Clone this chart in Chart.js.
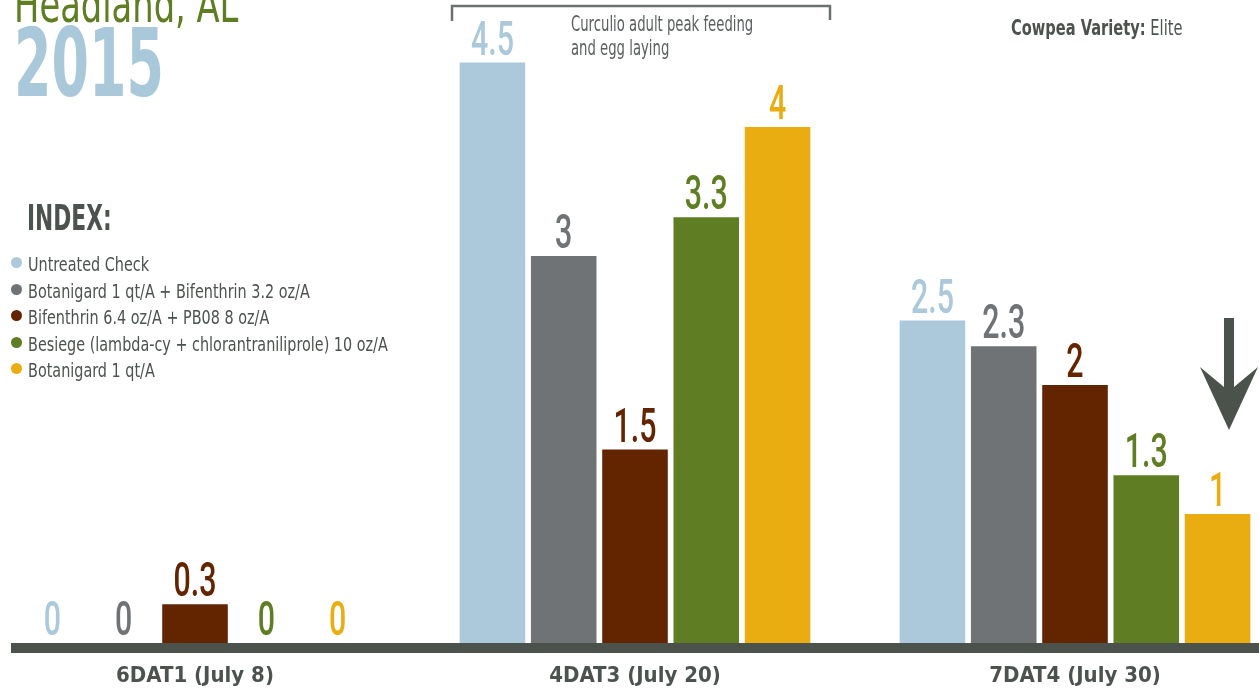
<!DOCTYPE html>
<html lang="en">
  <head>
    <meta charset="UTF-8" />
    <title>Headland, AL 2015</title>
    <script src="https://cdn.jsdelivr.net/npm/chart.js@4.4.1/dist/chart.umd.min.js"></script>
    <style>
      body {
        margin: 0;
        width: 1259px;
        height: 698px;
        overflow: hidden;
        background: #fff;
        position: relative;
        font-family: "Liberation Sans Narrow", "DejaVu Sans Condensed", sans-serif;
        color: #4c524d;
      }
      .chart-wrap {
        position: absolute;
        left: -25px;
        top: 0;
        width: 1320px;
        height: 698px;
      }
      .abs {
        position: absolute;
        white-space: nowrap;
        transform-origin: left top;
      }
      .place {
        left: 14px;
        top: -20px;
        font-size: 50px;
        line-height: 50px;
        color: #5f7d23;
        transform: scaleX(0.75);
      }
      .year {
        left: 14px;
        top: 16px;
        font-size: 95px;
        line-height: 95px;
        font-weight: bold;
        color: #a9c8d9;
        transform: scaleX(0.63);
      }
      .index-title {
        left: 27px;
        top: 198px;
        font-size: 35px;
        line-height: 40px;
        font-weight: bold;
        transform: scaleX(0.69);
      }
      .legend {
        left: 11px;
        top: 251px;
        font-size: 20px;
        line-height: 26.5px;
        list-style: none;
        margin: 0;
        padding: 0;
      }
      .legend li span.dot {
        display: inline-block;
        width: 11px;
        height: 11px;
        border-radius: 50%;
        margin-right: 6px;
        vertical-align: 3px;
      }
      .legend li span.txt {
        display: inline-block;
        transform: scaleX(0.8);
        transform-origin: left center;
      }
      .note {
        left: 571px;
        top: 12px;
        font-size: 21px;
        line-height: 24px;
        color: #5a5e5e;
        transform: scaleX(0.7);
      }
      .variety {
        left: 1011px;
        top: 16px;
        font-size: 22px;
        line-height: 24px;
        transform: scaleX(0.74);
      }
    </style>
  </head>
  <body>
    <div class="chart-wrap">
      <canvas id="chart-display"></canvas>
    </div>

    <div class="abs place">Headland, AL</div>
    <div class="abs year">2015</div>
    <div class="abs index-title">INDEX:</div>
    <ul class="abs legend" id="legend"></ul>
    <div class="abs note">Curculio adult peak feeding<br />and egg laying</div>
    <div class="abs variety"><b>Cowpea Variety:</b> Elite</div>

    <svg class="abs" style="left:0;top:0" width="1259" height="698">
      <polyline points="452,21 452,6 830,6 830,20" fill="none" stroke="#6d7070" stroke-width="2.5" />
      <polygon points="1224,318 1234,318 1234,387 1258,367 1229,430 1200,367 1224,387" fill="#4b524b" />
    </svg>

    <script>
      let categories = ['6DAT1 (July 8)', '4DAT3 (July 20)', '7DAT4 (July 30)'];
      let seriesNames = [
        'Untreated Check',
        'Botanigard 1 qt/A + Bifenthrin 3.2 oz/A',
        'Bifenthrin 6.4 oz/A + PB08 8 oz/A',
        'Besiege (lambda-cy + chlorantraniliprole) 10 oz/A',
        'Botanigard 1 qt/A'
      ];
      let untreated = [0, 4.5, 2.5];
      let botaniBifen = [0, 3, 2.3];
      let bifenPbo = [0.3, 1.5, 2];
      let besiege = [0, 3.3, 1.3];
      let botanigard = [0, 4, 1];

      let colors = ['#abc9da', '#6f7376', '#632400', '#5f7d23', '#e9ad12'];
      let values = [untreated, botaniBifen, bifenPbo, besiege, botanigard];

      // legend as plain html
      let legend = document.getElementById('legend');
      seriesNames.forEach((name, i) => {
        let li = document.createElement('li');
        li.innerHTML = '<span class="dot" style="background:' + colors[i] + '"></span><span class="txt">' + name + '</span>';
        legend.appendChild(li);
      });

      let labelPlugin = {
        id: 'valueLabels',
        afterDatasetsDraw(chart) {
          let ctx = chart.ctx;
          // dark axis bar
          let base = chart.chartArea.bottom;
          ctx.save();
          ctx.fillStyle = '#4b524b';
          ctx.fillRect(36, base, chart.width - 36, 10);
          ctx.restore();

          chart.data.datasets.forEach((ds, i) => {
            let meta = chart.getDatasetMeta(i);
            meta.data.forEach((bar, j) => {
              ctx.save();
              ctx.translate(bar.x, bar.y - 8);
              ctx.scale(0.62, 1);
              ctx.font = '500 49px Roboto, sans-serif';
              ctx.fillStyle = ds.backgroundColor;
              ctx.textAlign = 'center';
              ctx.textBaseline = 'alphabetic';
              ctx.fillText(String(ds.data[j]), 0, 0);
              ctx.restore();
            });
          });
        }
      };

      new Chart(document.getElementById('chart-display'), {
        type: 'bar',
        data: {
          labels: categories,
          datasets: values.map((v, i) => ({
            label: seriesNames[i],
            data: v,
            backgroundColor: colors[i],
            categoryPercentage: 0.81,
            barPercentage: 0.92
          }))
        },
        options: {
          responsive: true,
          maintainAspectRatio: false,
          animation: false,
          layout: { padding: 0 },
          plugins: {
            legend: { display: false },
            tooltip: { enabled: false }
          },
          scales: {
            x: {
              grid: { display: false },
              border: { display: false },
              ticks: {
                color: '#4c524d',
                padding: 12,
                maxRotation: 0,
                autoSkip: false,
                font: { family: '"Liberation Sans Narrow", "DejaVu Sans Condensed", sans-serif', size: 22, weight: 'bold' }
              },
              afterFit: s => { s.height = 55; }
            },
            y: {
              display: false,
              min: 0,
              max: 4.985
            }
          }
        },
        plugins: [labelPlugin]
      });
    </script>
  </body>
</html>
